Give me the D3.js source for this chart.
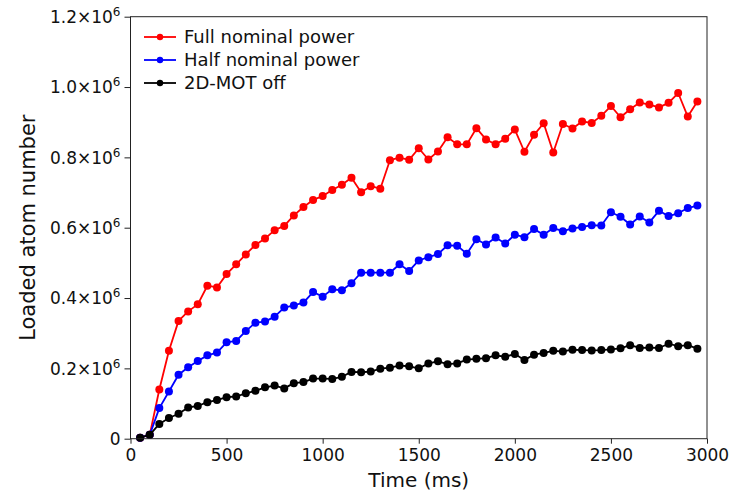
<!DOCTYPE html>
<html>
<head>
<meta charset="utf-8">
<script src="https://cdn.jsdelivr.net/npm/d3@7/dist/d3.min.js"></script>
<style>
  html, body { margin: 0; padding: 0; background: #fff; }
  svg { display: block; font-family: "DejaVu Sans", sans-serif; }
</style>
</head>
<body>
<svg id="chart" width="739" height="494"></svg>
<script>
// Loading time (ms)
const timeMs = [50, 100, 150, 200, 250, 300, 350, 400, 450, 500, 550, 600, 650, 700, 750, 800, 850, 900, 950, 1000,
  1050, 1100, 1150, 1200, 1250, 1300, 1350, 1400, 1450, 1500, 1550, 1600, 1650, 1700, 1750, 1800, 1850, 1900, 1950, 2000,
  2050, 2100, 2150, 2200, 2250, 2300, 2350, 2400, 2450, 2500, 2550, 2600, 2650, 2700, 2750, 2800, 2850, 2900, 2950];

// Loaded atom number, in units of 10^6
const fullPower = [0.003, 0.011, 0.140, 0.250, 0.335, 0.362, 0.382, 0.435, 0.430, 0.468, 0.496, 0.524, 0.551, 0.569, 0.593, 0.605, 0.635, 0.659, 0.679, 0.690,
  0.707, 0.722, 0.742, 0.701, 0.718, 0.711, 0.792, 0.799, 0.793, 0.826, 0.794, 0.817, 0.857, 0.837, 0.837, 0.883, 0.851, 0.837, 0.853, 0.879,
  0.816, 0.864, 0.897, 0.814, 0.895, 0.882, 0.902, 0.898, 0.918, 0.946, 0.914, 0.937, 0.956, 0.950, 0.942, 0.955, 0.983, 0.916, 0.959];

const halfPower = [0.003, 0.011, 0.087, 0.134, 0.182, 0.203, 0.221, 0.237, 0.245, 0.274, 0.278, 0.306, 0.330, 0.333, 0.347, 0.373, 0.379, 0.387, 0.417, 0.404,
  0.425, 0.422, 0.442, 0.472, 0.472, 0.472, 0.472, 0.496, 0.477, 0.507, 0.516, 0.525, 0.550, 0.549, 0.526, 0.567, 0.552, 0.572, 0.555, 0.580,
  0.573, 0.596, 0.580, 0.599, 0.590, 0.598, 0.602, 0.607, 0.606, 0.644, 0.631, 0.609, 0.632, 0.615, 0.648, 0.633, 0.641, 0.656, 0.663];

const motOff = [0.003, 0.011, 0.042, 0.059, 0.071, 0.089, 0.093, 0.104, 0.110, 0.118, 0.120, 0.129, 0.136, 0.146, 0.151, 0.143, 0.158, 0.161, 0.171, 0.171,
  0.170, 0.176, 0.190, 0.189, 0.191, 0.199, 0.202, 0.208, 0.206, 0.200, 0.214, 0.220, 0.212, 0.214, 0.225, 0.227, 0.229, 0.237, 0.233, 0.241,
  0.224, 0.239, 0.244, 0.250, 0.248, 0.253, 0.252, 0.251, 0.252, 0.254, 0.257, 0.266, 0.258, 0.259, 0.258, 0.270, 0.263, 0.266, 0.256];

const seriesNames = ["Full nominal power", "Half nominal power", "2D-MOT off"];
const seriesColors = ["#ff0000", "#0000ff", "#000000"];
const seriesValues = [fullPower, halfPower, motOff];

const xTicks = [0, 500, 1000, 1500, 2000, 2500, 3000];
const yTicks = [0, 0.2, 0.4, 0.6, 0.8, 1.0, 1.2];

const svg = d3.select("#chart");
const plot = { left: 130.5, right: 707, top: 16.7, bottom: 438.7 };

const x = d3.scaleLinear().domain([0, 3000]).range([plot.left, plot.right]);
const y = d3.scaleLinear().domain([0, 1.2]).range([plot.bottom, plot.top]);

// Data series: line with circular markers, drawn in legend order
seriesValues.forEach((vals, i) => {
  const pts = timeMs.map((t, j) => [t, vals[j]]);
  const g = svg.append("g");
  g.append("path")
    .datum(pts)
    .attr("fill", "none")
    .attr("stroke", seriesColors[i])
    .attr("stroke-width", 1.8)
    .attr("stroke-linejoin", "round")
    .attr("d", d3.line().x(d => x(d[0])).y(d => y(d[1])));
  g.selectAll("circle")
    .data(pts)
    .join("circle")
    .attr("cx", d => x(d[0]))
    .attr("cy", d => y(d[1]))
    .attr("r", 4)
    .attr("fill", seriesColors[i]);
});

// Frame
svg.append("rect")
  .attr("x", plot.left).attr("y", plot.top)
  .attr("width", plot.right - plot.left).attr("height", plot.bottom - plot.top)
  .attr("fill", "none").attr("stroke", "#222").attr("stroke-width", 1);

// X axis
const xAxis = svg.append("g")
  .attr("transform", `translate(0,${plot.bottom})`)
  .call(d3.axisBottom(x).tickValues(xTicks).tickFormat(d3.format("d")).tickSize(5).tickPadding(5));
xAxis.select(".domain").remove();
xAxis.selectAll("line").attr("stroke", "#222");
xAxis.selectAll("text")
  .attr("font-family", "DejaVu Sans, sans-serif")
  .attr("font-size", 17)
  .attr("fill", "#111");

// Y axis with ×10^6 labels
const yAxis = svg.append("g")
  .attr("transform", `translate(${plot.left},0)`)
  .call(d3.axisLeft(y).tickValues(yTicks).tickFormat("").tickSize(6));
yAxis.select(".domain").remove();
yAxis.selectAll("line").attr("stroke", "#222");
yAxis.selectAll(".tick").each(function (d) {
  const t = d3.select(this).append("text")
    .attr("x", -10)
    .attr("dy", "0.34em")
    .attr("text-anchor", "end")
    .attr("font-family", "DejaVu Sans, sans-serif")
    .attr("font-size", 17)
    .attr("fill", "#111");
  if (d === 0) {
    t.text("0");
  } else {
    t.append("tspan").text(d3.format(".1f")(d) + "×10");
    t.append("tspan").attr("font-size", 12).attr("dy", -7).text("6");
  }
});

// Axis titles
svg.append("text")
  .attr("x", (plot.left + plot.right) / 2)
  .attr("y", 487)
  .attr("text-anchor", "middle")
  .attr("font-size", 20)
  .attr("fill", "#111")
  .text("Time (ms)");

svg.append("text")
  .attr("transform", `translate(35,${(plot.top + plot.bottom) / 2}) rotate(-90)`)
  .attr("text-anchor", "middle")
  .attr("font-size", 21)
  .attr("fill", "#111")
  .text("Loaded atom number");

// Legend
const legend = svg.append("g");
const legendRowY = [37, 60, 83];
seriesNames.forEach((name, i) => {
  const row = legend.append("g").attr("transform", `translate(0,${legendRowY[i]})`);
  row.append("line")
    .attr("x1", 144).attr("x2", 176).attr("y1", 0).attr("y2", 0)
    .attr("stroke", seriesColors[i]).attr("stroke-width", 1.8);
  row.append("circle").attr("cx", 160).attr("cy", 0).attr("r", 3.2).attr("fill", seriesColors[i]);
  row.append("text")
    .attr("x", 184).attr("y", 0).attr("dy", "0.36em")
    .attr("font-size", 18)
    .attr("fill", "#111")
    .text(name);
});
</script>
</body>
</html>
